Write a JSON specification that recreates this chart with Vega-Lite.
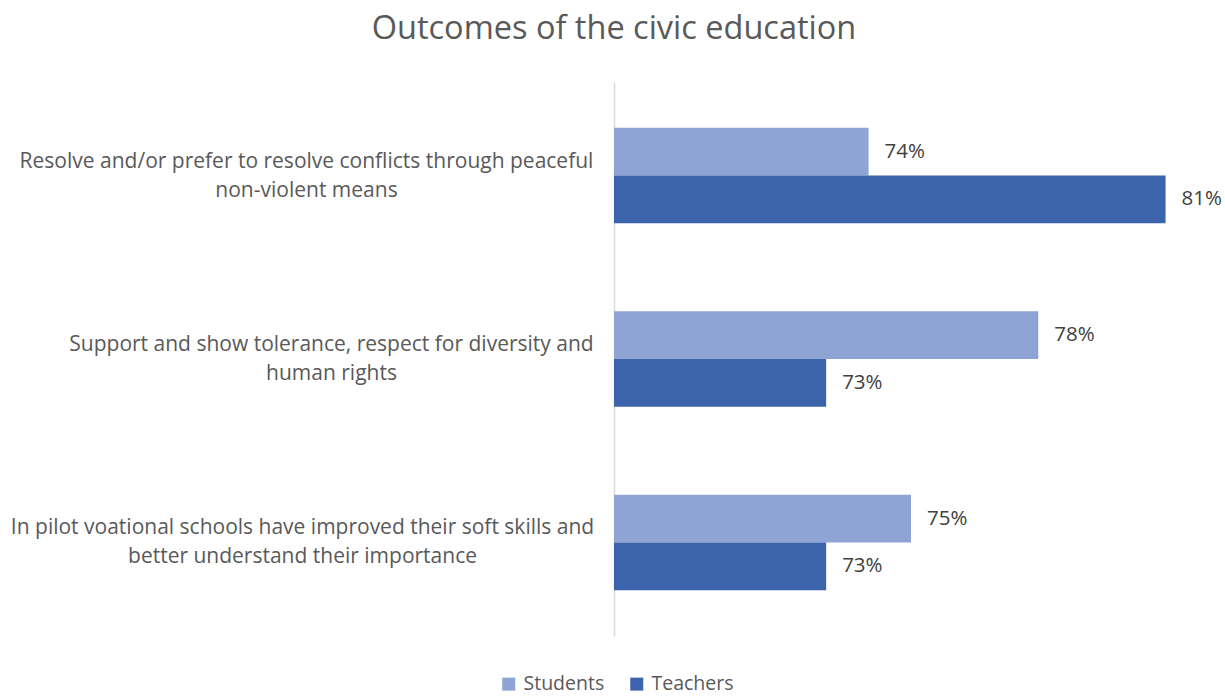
{
  "$schema": "https://vega.github.io/schema/vega-lite/v6.json",
  "width": 594,
  "height": 554,
  "autosize": {"type": "none"},
  "padding": {"left": 614, "top": 82, "right": 17, "bottom": 60},
  "background": "white",
  "config": {"view": {"stroke": null}, "font": "Open Sans"},
  "title": {
    "text": "Outcomes of the civic education",
    "fontSize": 32.5,
    "fontWeight": "normal",
    "color": "#595959",
    "anchor": "middle",
    "frame": "group",
    "dx": -297,
    "offset": 37
  },
  "data": {
    "values": [
      {"cat": "Resolve and/or prefer to resolve conflicts through peaceful|non-violent means", "series": "Students", "value": 0.74},
      {"cat": "Resolve and/or prefer to resolve conflicts through peaceful|non-violent means", "series": "Teachers", "value": 0.81},
      {"cat": "Support and show tolerance, respect for diversity and|human rights", "series": "Students", "value": 0.78},
      {"cat": "Support and show tolerance, respect for diversity and|human rights", "series": "Teachers", "value": 0.73},
      {"cat": "In pilot voational schools have improved their soft skills and|better understand their importance", "series": "Students", "value": 0.75},
      {"cat": "In pilot voational schools have improved their soft skills and|better understand their importance", "series": "Teachers", "value": 0.73}
    ]
  },
  "encoding": {
    "y": {
      "field": "cat",
      "type": "nominal",
      "sort": null,
      "scale": {"paddingInner": 0.48, "paddingOuter": 0.25},
      "axis": {
        "title": null,
        "ticks": false,
        "tickSize": 0,
        "domainColor": "#d9d9d9",
        "domainWidth": 1.5,
        "labelExpr": "split(datum.label, '|')",
        "labelAlign": "center",
        "labelBaseline": "middle",
        "labelOffset": -14,
        "labelPadding": {
          "condition": [
            {"test": "indexof(datum.value, 'Support') == 0", "value": 283},
            {"test": "indexof(datum.value, 'In pilot') == 0", "value": 312}
          ],
          "value": 308
        },
        "labelFontSize": 21,
        "labelLineHeight": 29,
        "labelColor": "#595959",
        "labelLimit": 0
      }
    },
    "yOffset": {
      "field": "series",
      "type": "nominal",
      "sort": ["Students", "Teachers"],
      "scale": {"paddingInner": 0, "paddingOuter": 0}
    },
    "x": {
      "field": "value",
      "type": "quantitative",
      "scale": {"domain": [0.68, 0.82], "zero": false},
      "axis": null
    }
  },
  "layer": [
    {
      "mark": {"type": "bar"},
      "encoding": {
        "x2": {"datum": 0.68},
        "color": {
          "field": "series",
          "type": "nominal",
          "sort": ["Students", "Teachers"],
          "scale": {"domain": ["Students", "Teachers"], "range": ["#8fa3d4", "#3c64ac"]},
          "legend": {
            "title": null,
            "orient": "none",
            "legendX": -115,
            "legendY": 592,
            "direction": "horizontal",
            "symbolType": "square",
            "symbolSize": 169,
            "symbolStrokeWidth": 0,
            "labelFontSize": 19.5,
            "labelColor": "#595959",
            "columnPadding": 22,
            "labelOffset": 5
          }
        }
      }
    },
    {
      "mark": {"type": "text", "align": "left", "baseline": "middle", "dx": 16, "fontSize": 20.5, "color": "#404040"},
      "encoding": {
        "text": {"field": "value", "type": "quantitative", "format": ".0%"}
      }
    }
  ]
}
